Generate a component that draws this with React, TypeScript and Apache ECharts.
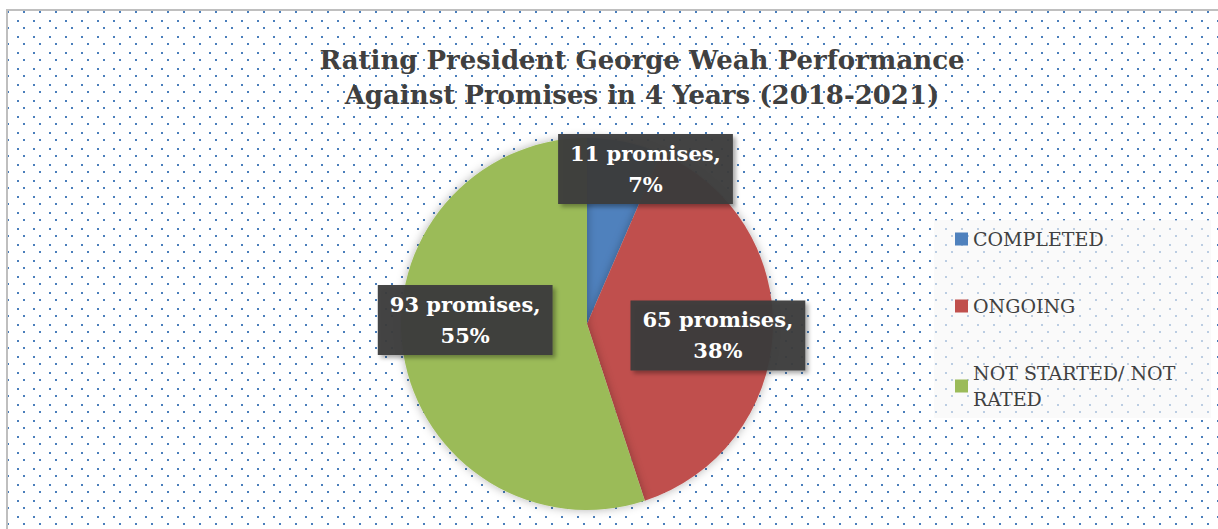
import React, { useEffect, useRef } from "react";
import * as echarts from "echarts";

const TITLE_LINES = [
  "Rating President George Weah Performance",
  "Against Promises in 4 Years (2018-2021)",
];
const CATEGORIES = ["COMPLETED", "ONGOING", "NOT STARTED/ NOT RATED"];
const PROMISES = [11, 65, 93];
const COLORS = ["#4F81BD", "#C0504D", "#9BBB59"];
// label offsets from the slice's inner anchor (style, not data)
const LABEL_OFFSETS = [
  [39, -61],
  [35, 7],
  [-27, -19],
];

const SERIF = "'DejaVu Serif', 'Liberation Serif', serif";

const tile = encodeURIComponent(
  `<svg xmlns="http://www.w3.org/2000/svg" width="16" height="16"><rect x="0" y="0" width="2" height="2" fill="#4a7ebb"/><rect x="10" y="9" width="2" height="2" fill="#4a7ebb"/></svg>`
);

export default function App() {
  const ref = useRef<HTMLDivElement>(null);
  useEffect(() => {
    if (!ref.current) return;
    const chart = echarts.init(ref.current, undefined, { renderer: "svg" });
    chart.setOption({
      animation: false,
      title: {
        text: TITLE_LINES.join("\n"),
        left: 637,
        top: 37,
        textAlign: "center",
        textStyle: {
          fontFamily: SERIF,
          fontWeight: "bold",
          fontSize: 26,
          lineHeight: 35,
          color: "#404040",
        },
      },
      legend: {
        orient: "vertical",
        left: 934,
        top: 220,
        padding: [6, 6, 6, 21],
        backgroundColor: "rgba(248,248,248,0.65)",
        itemWidth: 13,
        itemHeight: 13,
        itemGap: 41,
        icon: "rect",
        data: CATEGORIES,
        textStyle: {
          fontFamily: SERIF,
          fontSize: 19,
          lineHeight: 26,
          color: "#404040",
          width: 232,
          overflow: "break",
        },
      },
      series: [
        {
          type: "pie",
          center: [587, 324],
          radius: [0, 186],
          startAngle: 90,
          clockwise: true,
          percentPrecision: 0,
          labelLine: { show: false },
          itemStyle: {
            shadowBlur: 10,
            shadowColor: "rgba(0,0,0,0.3)",
          },
          emphasis: { disabled: true },
          label: {
            show: true,
            position: "inside",
            formatter: "{c} promises,\n{d}%",
            fontFamily: SERIF,
            fontWeight: "bold",
            fontSize: 21,
            lineHeight: 31,
            color: "#ffffff",
            backgroundColor: "rgba(60,60,60,0.95)",
            padding: [4, 12, 4, 12],
            shadowColor: "rgba(0,0,0,0.35)",
            shadowBlur: 4,
            shadowOffsetX: 3,
            shadowOffsetY: 3,
          },
          data: CATEGORIES.map((name, i) => ({
            name,
            value: PROMISES[i],
            itemStyle: { color: COLORS[i] },
            label: { offset: LABEL_OFFSETS[i] },
          })),
        },
      ],
    });
    return () => chart.dispose();
  }, []);

  return (
    <div
      style={{
        position: "absolute",
        left: 0,
        top: 0,
        width: 1218,
        height: 529,
        overflow: "hidden",
        background: "#ffffff",
      }}
    >
      <div
        style={{
          position: "absolute",
          left: 6,
          top: 9,
          width: 1400,
          height: 700,
          borderLeft: "2px solid #bfbfbf",
          borderTop: "2px solid #bfbfbf",
          backgroundImage: `url("data:image/svg+xml,${tile}")`,
          backgroundPosition: "-1px 0px",
          backgroundRepeat: "repeat",
        }}
      />
      <div
        ref={ref}
        style={{ position: "absolute", left: 0, top: 0, width: 1218, height: 529 }}
      />
    </div>
  );
}
